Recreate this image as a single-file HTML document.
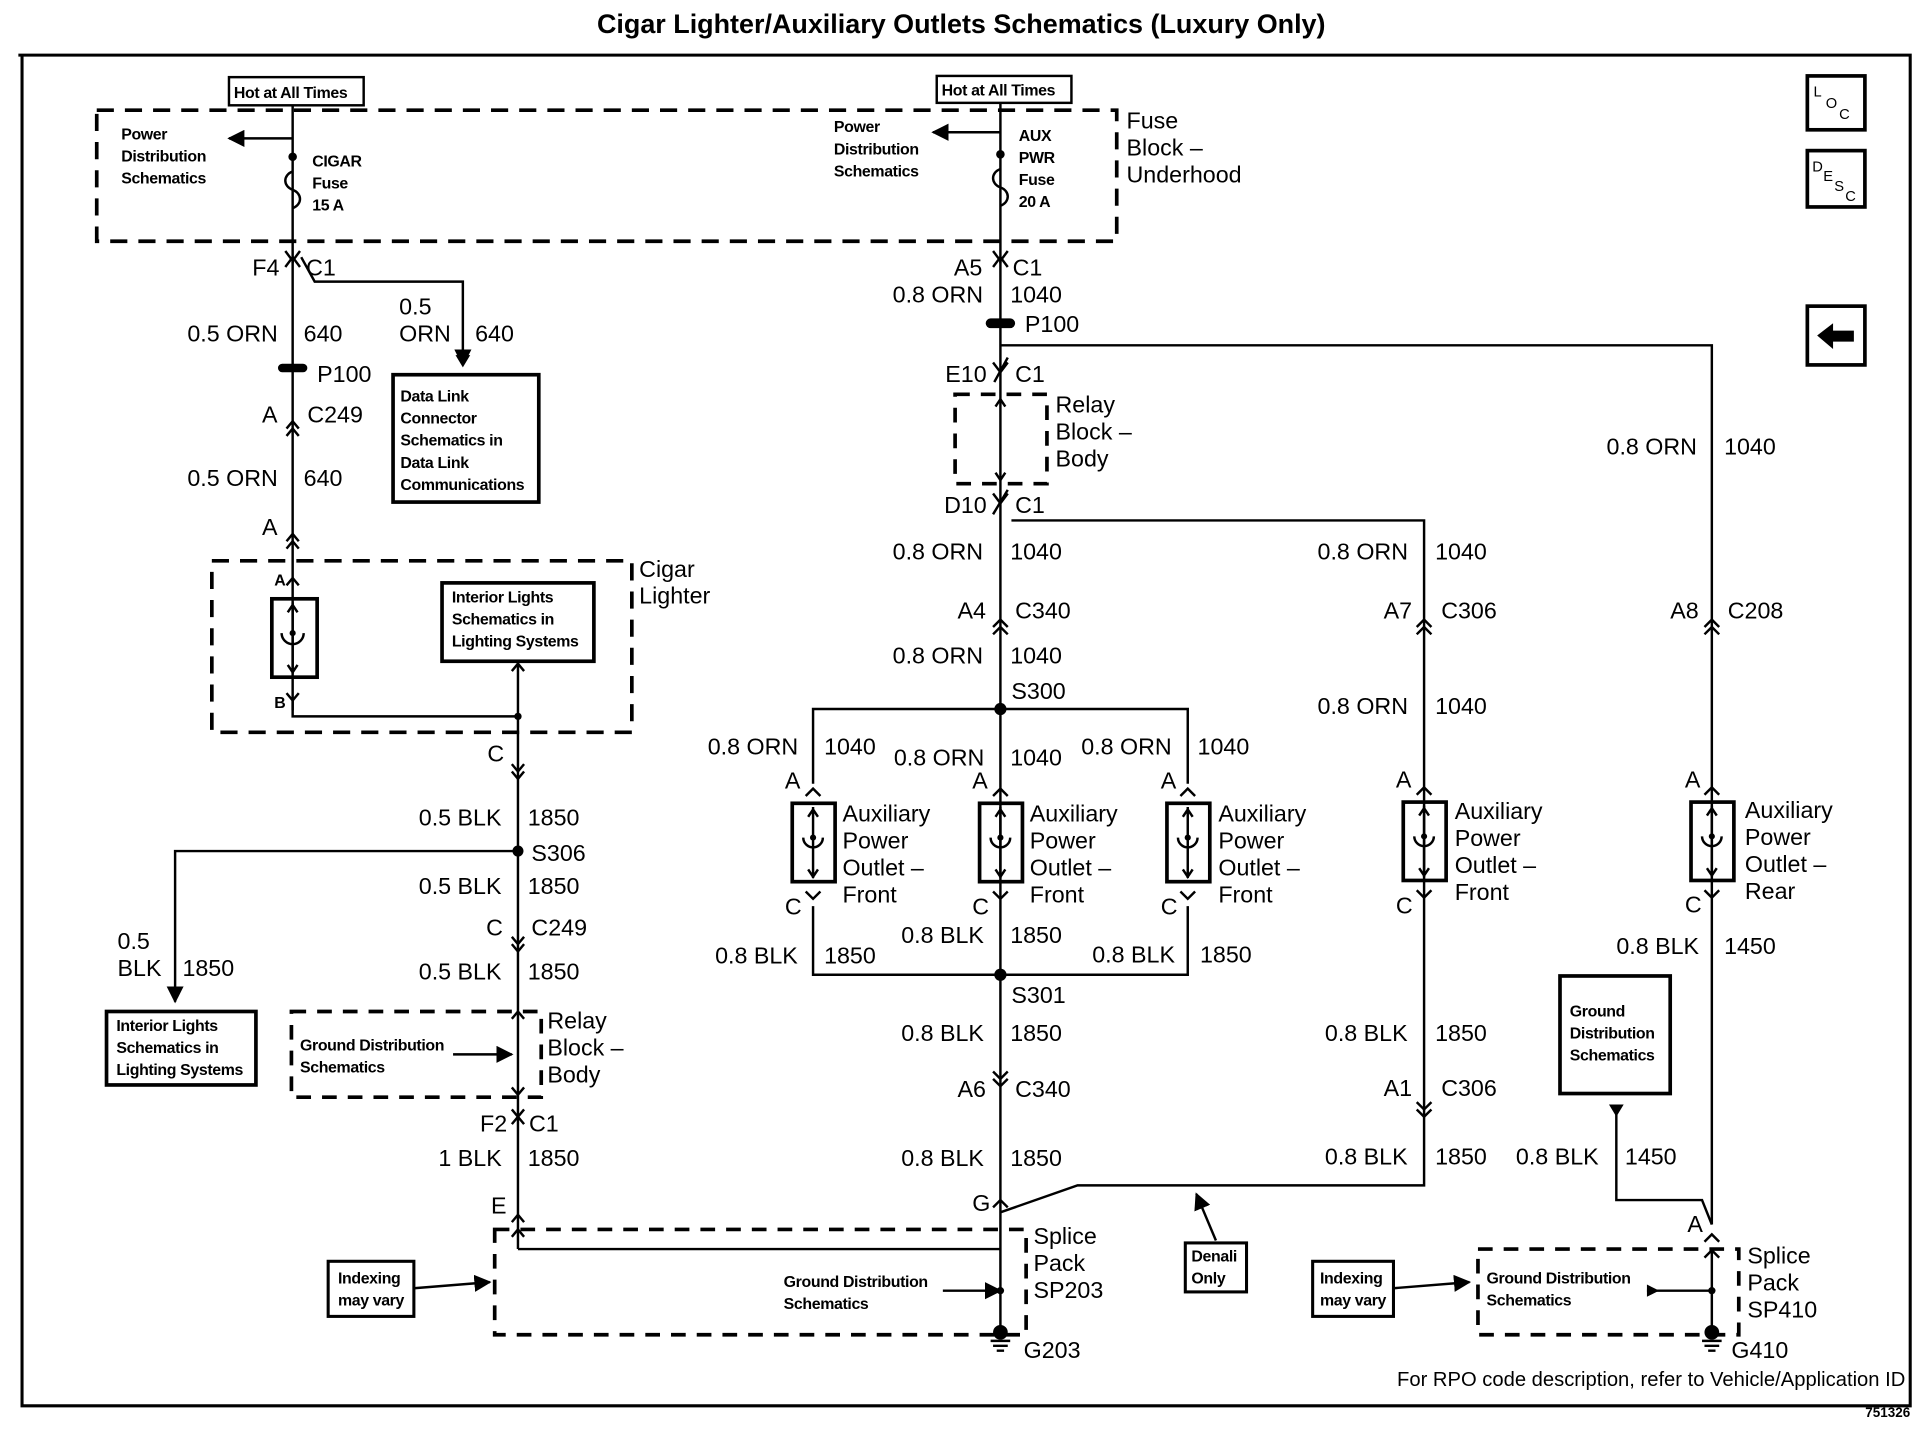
<!DOCTYPE html>
<html><head><meta charset="utf-8"><style>
html,body{margin:0;padding:0;background:#fff;}
svg{display:block;}
text{font-family:"Liberation Sans",Arial,sans-serif;fill:#000;}
.l{font-size:19px;}
.s{font-size:13px;font-weight:bold;letter-spacing:-0.3px;}
</style></head><body>
<svg width="1920" height="1456" viewBox="0 0 1568 1189" preserveAspectRatio="none" xmlns="http://www.w3.org/2000/svg">
<defs>
<marker id="ar" viewBox="0 0 10 10" refX="9" refY="5" markerWidth="7" markerHeight="7" orient="auto"><path d="M0,0 L10,5 L0,10 z" fill="#000"/></marker>
</defs>
<rect width="1568" height="1189" fill="#fff"/>
<text x="785" y="27" text-anchor="middle" style="font-size:22px;font-weight:bold">Cigar Lighter/Auxiliary Outlets Schematics (Luxury Only)</text>
<g fill="none" stroke="#000" stroke-width="2">
<path d="M15,45 H1560 V1148 H18 V45" stroke-width="2.5"/>
<rect x="79" y="90" width="833" height="107" stroke-dasharray="14,9" stroke-width="3"/>
<rect x="187" y="63" width="110" height="23"/>
<rect x="765" y="62" width="110" height="22"/>
<path d="M239,86 V215"/>
<path d="M239,113 H187" marker-end="url(#ar)"/>
<path d="M239,140 c-8,3 -8,12 0,15 c8,3 8,12 0,15"/>
<circle cx="239" cy="128" r="2.5" fill="#000"/>
<path d="M817,84 V215"/>
<path d="M817,108 H762" marker-end="url(#ar)"/>
<path d="M817,138 c-8,3 -8,12 0,15 c8,3 8,12 0,15"/>
<circle cx="817" cy="126" r="2.5" fill="#000"/>
<path d="M233,205 l6,8 l6,-8"/>
<path d="M233,218 l6,-8 l6,8"/>
<path d="M239,210 V580"/>
<path d="M246,210 L257,230 H378 V298" marker-end="url(#ar)"/>
<rect x="321" y="306" width="119" height="104" stroke-width="3"/>
<path d="M234,350 l5,-6 l5,6 M234,356 l5,-6 l5,6"/>
<path d="M234,442 l5,-6 l5,6 M234,448 l5,-6 l5,6"/>
<path d="M234,478 l5,-6 l5,6"/>
<rect x="173" y="458" width="343" height="140" stroke-dasharray="14,9" stroke-width="3"/>
<rect x="222" y="489" width="37" height="64" stroke-width="3"/>
<path d="M239,492 V550 M235,500 l4,-6 l4,6 M235,543 l4,6 l4,-6"/>
<path d="M230,517 a9,9 0 0 0 18,0"/>
<path d="M234,566 l5,6 l5,-6 M239,572 V585 H423"/>
<rect x="361" y="476" width="124" height="64" stroke-width="3"/>
<path d="M423,540 V1020"/>
<path d="M418,548 l5,-6 l5,6"/>
<path d="M418,624 l5,6 l5,-6 M418,630 l5,6 l5,-6"/>
<path d="M423,695 H143 V818" marker-end="url(#ar)"/>
<rect x="87" y="826" width="122" height="60" stroke-width="3"/>
<path d="M418,765 l5,6 l5,-6 M418,771 l5,6 l5,-6"/>
<rect x="238" y="826" width="204" height="70" stroke-dasharray="12,9" stroke-width="3"/>
<path d="M418,832 l5,-6 l5,6 M418,888 l5,6 l5,-6"/>
<path d="M370,861 H418" marker-end="url(#ar)"/>
<path d="M418,906 l5,6 l5,-6 M418,918 l5,-6 l5,6"/>
<path d="M418,998 l5,-6 l5,6 M418,1010 l5,-6 l5,6"/>
<rect x="404" y="1004" width="434" height="86" stroke-dasharray="12,9" stroke-width="3"/>
<path d="M423,1020 H817"/>
<path d="M770,1054 H817" marker-end="url(#ar)"/>
<rect x="268" y="1030" width="70" height="45" stroke-width="2.5"/>
<path d="M338,1052 L400,1047" marker-end="url(#ar)"/>
<path d="M811,205 l6,8 l6,-8 M811,218 l6,-8 l6,8"/>
<path d="M817,210 V1088"/>
<path d="M817,282 H1398 V1000"/>
<path d="M811,296 l6,8 l6,-8 M823,292 L812,312"/>
<rect x="780" y="322" width="75" height="73" stroke-dasharray="12,9" stroke-width="3"/>
<path d="M813,332 l4,-6 l4,6 M813,386 l4,6 l4,-6"/>
<path d="M811,403 l6,8 l6,-8 M823,400 L811,420"/>
<path d="M826,425 H1163 V968 H880 L817,990"/>
<path d="M811,512 l6,-6 l6,6 M811,518 l6,-6 l6,6"/>
<path d="M664,640 V579 H970 V640"/>
<path d="M664,740 V796 H970 V740"/>
<path d="M811,875 l6,6 l6,-6 M811,881 l6,6 l6,-6"/>
<path d="M811,986 l6,-6 l6,6"/>
<path d="M1157,512 l6,-6 l6,6 M1157,518 l6,-6 l6,6"/>
<path d="M1157,900 l6,6 l6,-6 M1157,906 l6,6 l6,-6"/>
<path d="M1392,512 l6,-6 l6,6 M1392,518 l6,-6 l6,6"/>
<rect x="968" y="1015" width="50" height="40" stroke-width="2.5"/>
<path d="M993,1013 L977,975" marker-end="url(#ar)"/>
<rect x="1207" y="1020" width="213" height="70" stroke-dasharray="12,9" stroke-width="3"/>
<path d="M1392,1014 l6,-6 l6,6 M1392,1027 l6,-6 l6,6"/>
<path d="M1398,1022 V1088"/>
<path d="M1345,1054 H1398"/>
<rect x="1072" y="1030" width="66" height="45" stroke-width="2.5"/>
<path d="M1138,1052 L1200,1047" marker-end="url(#ar)"/>
<rect x="1274" y="797" width="90" height="96" stroke-width="3"/>
<path d="M1320,910 V980 H1390 L1398,1000"/>
<rect x="1476" y="62" width="47" height="44" stroke-width="3"/>
<rect x="1476" y="123" width="47" height="46" stroke-width="3"/>
<rect x="1476" y="250" width="47" height="48" stroke-width="3"/>
</g>
<g fill="#000">
<path d="M372,290 L384,290 L378,300 z"/>
<rect x="227" y="297" width="24" height="7" rx="3.5"/>
<rect x="805" y="260" width="24" height="8" rx="4"/>
<circle cx="423" cy="585" r="3"/>
<circle cx="423" cy="695" r="4.5"/>
<circle cx="817" cy="579" r="5"/>
<circle cx="817" cy="796" r="5"/>
<circle cx="817" cy="1054" r="3"/>
<circle cx="1398" cy="1054" r="3"/>
<circle cx="817" cy="1088" r="6"/>
<circle cx="1398" cy="1088" r="6"/>
<path d="M1314,902 L1326,902 L1320,912 z"/>
<path d="M1345,1049 L1355,1054 L1345,1059 z"/>
<path d="M1484,274 L1497,264 L1497,270 L1514,270 L1514,279 L1497,279 L1497,285 z"/>
</g>
<g stroke="#000" stroke-width="2">
<path d="M809,1095 H825 M811,1099 H823 M814,1103 H820"/>
<path d="M1390,1095 H1406 M1392,1099 H1404 M1395,1103 H1401"/>
</g>
<g fill="none" stroke="#000" stroke-width="2">
<g id="o1">
<path d="M0,0 l6,-6 l6,6" transform="translate(658,650)"/>
<rect x="647" y="656" width="35" height="64" stroke-width="3"/>
<path d="M664,659 V717 M660,667 l4,-6 l4,6 M660,710 l4,6 l4,-6 M656,684 a8,8 0 0 0 16,0"/>
<path d="M658,728 l6,6 l6,-6"/>
</g>
<use href="#o1" x="153"/>
<use href="#o1" x="306"/>
<use href="#o1" x="499" y="-1"/>
<use href="#o1" x="734" y="-1"/>
</g>
<g fill="#000"><circle cx="664" cy="684" r="2.5"/><circle cx="817" cy="684" r="2.5"/><circle cx="970" cy="684" r="2.5"/><circle cx="1163" cy="683" r="2.5"/><circle cx="1398" cy="683" r="2.5"/><circle cx="239" cy="517" r="2.5"/></g>
<g class="s">
<text x="191" y="80">Hot at All Times</text>
<text x="769" y="78">Hot at All Times</text>
<text x="99" y="114">Power</text><text x="99" y="132">Distribution</text><text x="99" y="150">Schematics</text>
<text x="255" y="136">CIGAR</text><text x="255" y="154">Fuse</text><text x="255" y="172">15 A</text>
<text x="681" y="108">Power</text><text x="681" y="126">Distribution</text><text x="681" y="144">Schematics</text>
<text x="832" y="115">AUX</text><text x="832" y="133">PWR</text><text x="832" y="151">Fuse</text><text x="832" y="169">20 A</text>
<text x="327" y="328">Data Link</text><text x="327" y="346">Connector</text><text x="327" y="364">Schematics in</text><text x="327" y="382">Data Link</text><text x="327" y="400">Communications</text>
<text x="369" y="492">Interior Lights</text><text x="369" y="510">Schematics in</text><text x="369" y="528">Lighting Systems</text>
<text x="224" y="478">A</text><text x="224" y="578">B</text>
<text x="95" y="842">Interior Lights</text><text x="95" y="860">Schematics in</text><text x="95" y="878">Lighting Systems</text>
<text x="245" y="858">Ground Distribution</text><text x="245" y="876">Schematics</text>
<text x="1282" y="830">Ground</text><text x="1282" y="848">Distribution</text><text x="1282" y="866">Schematics</text>
<text x="276" y="1048">Indexing</text><text x="276" y="1066">may vary</text>
<text x="1078" y="1048">Indexing</text><text x="1078" y="1066">may vary</text>
<text x="973" y="1030">Denali</text><text x="973" y="1048">Only</text>
<text x="640" y="1051">Ground Distribution</text><text x="640" y="1069">Schematics</text>
<text x="1214" y="1048">Ground Distribution</text><text x="1214" y="1066">Schematics</text>
</g>
<g class="l">
<text x="920" y="105">Fuse</text><text x="920" y="127">Block –</text><text x="920" y="149">Underhood</text>
<text x="206" y="225">F4</text><text x="250" y="225">C1</text>
<text x="153" y="279">0.5 ORN</text><text x="248" y="279">640</text>
<text x="326" y="257">0.5</text><text x="326" y="279">ORN</text><text x="388" y="279">640</text>
<text x="259" y="312">P100</text>
<text x="214" y="345">A</text><text x="251" y="345">C249</text>
<text x="153" y="397">0.5 ORN</text><text x="248" y="397">640</text>
<text x="214" y="437">A</text>
<text x="522" y="471">Cigar</text><text x="522" y="493">Lighter</text>
<text x="398" y="622">C</text>
<text x="342" y="674">0.5 BLK</text><text x="431" y="674">1850</text>
<text x="434" y="703">S306</text>
<text x="342" y="730">0.5 BLK</text><text x="431" y="730">1850</text>
<text x="397" y="764">C</text><text x="434" y="764">C249</text>
<text x="96" y="775">0.5</text><text x="96" y="797">BLK</text><text x="149" y="797">1850</text>
<text x="342" y="800">0.5 BLK</text><text x="431" y="800">1850</text>
<text x="447" y="840">Relay</text><text x="447" y="862">Block –</text><text x="447" y="884">Body</text>
<text x="392" y="924">F2</text><text x="432" y="924">C1</text>
<text x="358" y="952">1 BLK</text><text x="431" y="952">1850</text>
<text x="401" y="991">E</text>
<text x="779" y="225">A5</text><text x="827" y="225">C1</text>
<text x="729" y="247">0.8 ORN</text><text x="825" y="247">1040</text>
<text x="837" y="271">P100</text>
<text x="772" y="312">E10</text><text x="829" y="312">C1</text>
<text x="862" y="337">Relay</text><text x="862" y="359">Block –</text><text x="862" y="381">Body</text>
<text x="771" y="419">D10</text><text x="829" y="419">C1</text>
<text x="1312" y="371">0.8 ORN</text><text x="1408" y="371">1040</text>
<text x="729" y="457">0.8 ORN</text><text x="825" y="457">1040</text>
<text x="1076" y="457">0.8 ORN</text><text x="1172" y="457">1040</text>
<text x="782" y="505">A4</text><text x="829" y="505">C340</text>
<text x="1130" y="505">A7</text><text x="1177" y="505">C306</text>
<text x="1364" y="505">A8</text><text x="1411" y="505">C208</text>
<text x="729" y="542">0.8 ORN</text><text x="825" y="542">1040</text>
<text x="826" y="571">S300</text>
<text x="1076" y="583">0.8 ORN</text><text x="1172" y="583">1040</text>
<text x="578" y="616">0.8 ORN</text><text x="673" y="616">1040</text>
<text x="730" y="625">0.8 ORN</text><text x="825" y="625">1040</text>
<text x="883" y="616">0.8 ORN</text><text x="978" y="616">1040</text>
<text x="641" y="644">A</text><text x="794" y="644">A</text><text x="948" y="644">A</text><text x="1140" y="643">A</text><text x="1376" y="643">A</text>
<text x="688" y="671">Auxiliary</text><text x="688" y="693">Power</text><text x="688" y="715">Outlet –</text><text x="688" y="737">Front</text>
<text x="841" y="671">Auxiliary</text><text x="841" y="693">Power</text><text x="841" y="715">Outlet –</text><text x="841" y="737">Front</text>
<text x="995" y="671">Auxiliary</text><text x="995" y="693">Power</text><text x="995" y="715">Outlet –</text><text x="995" y="737">Front</text>
<text x="1188" y="669">Auxiliary</text><text x="1188" y="691">Power</text><text x="1188" y="713">Outlet –</text><text x="1188" y="735">Front</text>
<text x="1425" y="668">Auxiliary</text><text x="1425" y="690">Power</text><text x="1425" y="712">Outlet –</text><text x="1425" y="734">Rear</text>
<text x="641" y="747">C</text><text x="794" y="747">C</text><text x="948" y="747">C</text><text x="1140" y="746">C</text><text x="1376" y="745">C</text>
<text x="1320" y="779">0.8 BLK</text><text x="1408" y="779">1450</text>
<text x="736" y="770">0.8 BLK</text><text x="825" y="770">1850</text>
<text x="584" y="787">0.8 BLK</text><text x="673" y="787">1850</text>
<text x="892" y="786">0.8 BLK</text><text x="980" y="786">1850</text>
<text x="826" y="819">S301</text>
<text x="736" y="850">0.8 BLK</text><text x="825" y="850">1850</text>
<text x="1082" y="850">0.8 BLK</text><text x="1172" y="850">1850</text>
<text x="782" y="896">A6</text><text x="829" y="896">C340</text>
<text x="1130" y="895">A1</text><text x="1177" y="895">C306</text>
<text x="736" y="952">0.8 BLK</text><text x="825" y="952">1850</text>
<text x="1082" y="951">0.8 BLK</text><text x="1172" y="951">1850</text>
<text x="1238" y="951">0.8 BLK</text><text x="1327" y="951">1450</text>
<text x="794" y="989">G</text>
<text x="1378" y="1006">A</text>
<text x="844" y="1016">Splice</text><text x="844" y="1038">Pack</text><text x="844" y="1060">SP203</text>
<text x="1427" y="1032">Splice</text><text x="1427" y="1054">Pack</text><text x="1427" y="1076">SP410</text>
<text x="836" y="1109">G203</text><text x="1414" y="1109">G410</text>
</g>
<text x="1556" y="1132" text-anchor="end" style="font-size:16.5px">For RPO code description, refer to Vehicle/Application ID</text>
<text x="1560" y="1157" text-anchor="end" style="font-size:11px;font-weight:bold">751326</text>
<text x="1481" y="79" style="font-size:12px">L</text><text x="1491" y="88" style="font-size:12px">O</text><text x="1502" y="97" style="font-size:12px">C</text>
<text x="1480" y="140" style="font-size:12px">D</text><text x="1489" y="148" style="font-size:12px">E</text><text x="1498" y="156" style="font-size:12px">S</text><text x="1507" y="164" style="font-size:12px">C</text>
</svg>
</body></html>
